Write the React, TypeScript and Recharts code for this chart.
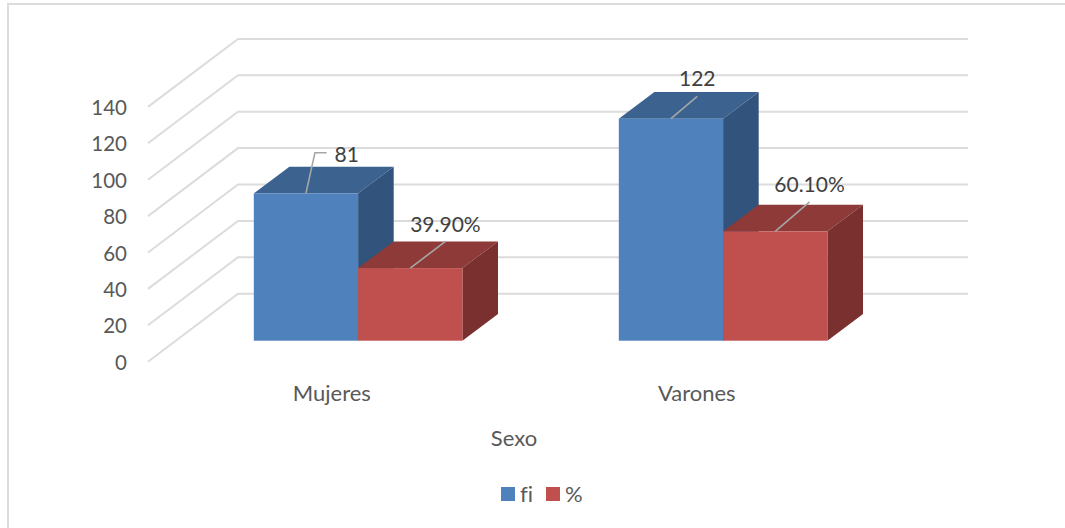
import { Bar, BarChart, CartesianGrid, LabelList, Legend, XAxis, YAxis } from "recharts"

const categories = ["Mujeres", "Varones"]
const fiValues = [81, 122]
const pctValues = [39.9, 60.1]
const yTicks = [0, 20, 40, 60, 80, 100, 120, 140]

const chartData = categories.map((name, i) => ({ name, fi: fiValues[i], pct: pctValues[i] }))

const FONT = "Lato, sans-serif"
const AXIS_TEXT = "#595959"
const LABEL_TEXT = "#404040"
const GRID = "#dcdcdc"
const LEADER = "#a6a6a6"

// fake 3d: how far the bar goes back, and where walls sit relative to the bar plane
const DEPTH_X = 35.6
const DEPTH_Y = 26.6
const WALL_FRONT = { dx: -27.8, dy: 21 }
const WALL_BACK = { dx: 62.2, dy: -47 }

const blueFaces = { top: "#3c6390", side: "#32537b" }
const redFaces = { top: "#8e3a38", side: "#7a302e" }

// leader ends and text centres, relative to the top centre of each front face
const fiLabelLayout = [
  { points: [[9, -40.6], [20.7, -40.6]], text: [40.7, -39.8] },
  { points: [[26.3, -22.3]], text: [26.3, -40.7] },
]
const pctLabelLayout = [
  { points: [[35.2, -26.6]], text: [35.2, -44.8] },
  { points: [[34.3, -29.4]], text: [34.3, -47.9] },
]

function box(faces: { top: string; side: string }) {
  return (props: any) => {
    const { x, y, width, height, fill } = props
    const r = x + width
    const b = y + height
    return (
      <g>
        <polygon
          points={`${x},${y} ${x + DEPTH_X},${y - DEPTH_Y} ${r + DEPTH_X},${y - DEPTH_Y} ${r},${y}`}
          fill={faces.top}
        />
        <polygon
          points={`${r},${y} ${r + DEPTH_X},${y - DEPTH_Y} ${r + DEPTH_X},${b - DEPTH_Y} ${r},${b}`}
          fill={faces.side}
        />
        <rect x={x} y={y} width={width} height={height} fill={fill} />
      </g>
    )
  }
}

function leaderLabel(layout: typeof fiLabelLayout, format: (v: number) => string) {
  return (props: any) => {
    const { x, y, width, value, index } = props
    const cx = x + width / 2
    const item = layout[index]
    const pts = [[0, 0], ...item.points].map(([dx, dy]) => `${cx + dx},${y + dy}`).join(" ")
    return (
      <g>
        <polyline points={pts} fill="none" stroke={LEADER} strokeWidth={1.6} />
        <text
          x={cx + item.text[0]}
          y={y + item.text[1]}
          textAnchor="middle"
          dominantBaseline="central"
          fontFamily={FONT}
          fontSize={21}
          fill={LABEL_TEXT}
        >
          {format(value)}
        </text>
      </g>
    )
  }
}

const gridLine = (p: any) => {
  const { x1, x2, y1 } = p
  const pts = [
    `${x1 + WALL_FRONT.dx},${y1 + WALL_FRONT.dy}`,
    `${x1 + WALL_BACK.dx},${y1 + WALL_BACK.dy}`,
    `${x2 + WALL_BACK.dx},${y1 + WALL_BACK.dy}`,
  ].join(" ")
  return <polyline key={p.key ?? y1} points={pts} fill="none" stroke={GRID} strokeWidth={2} />
}

const yTick = (p: any) => (
  <text
    x={127}
    y={p.y + WALL_FRONT.dy}
    textAnchor="end"
    dominantBaseline="central"
    fontFamily={FONT}
    fontSize={20.5}
    fill={AXIS_TEXT}
  >
    {p.payload.value}
  </text>
)

const xTick = (p: any) => (
  <text
    x={p.x - 26.5}
    y={392.5}
    textAnchor="middle"
    dominantBaseline="central"
    fontFamily={FONT}
    fontSize={22}
    fill={AXIS_TEXT}
  >
    {p.payload.value}
  </text>
)

const legendContent = (props: any) => (
  <div
    style={{
      display: "flex",
      alignItems: "center",
      fontFamily: FONT,
      fontSize: 22,
      lineHeight: "26px",
      color: AXIS_TEXT,
      fontVariantLigatures: "none",
    }}
  >
    {props.payload.map((item: any) => (
      <div key={item.value} style={{ display: "flex", alignItems: "center", marginRight: 13 }}>
        <span style={{ width: 14, height: 14, background: item.color, marginRight: 5 }} />
        <span>{item.value}</span>
      </div>
    ))}
  </div>
)

export default function App() {
  return (
    <div style={{ position: "absolute", left: 0, top: 0, width: 1065, height: 528, background: "#fff" }}>
      <div
        style={{
          position: "absolute",
          left: 6.5,
          top: 3,
          right: 0,
          bottom: 0,
          borderTop: `2px solid ${GRID}`,
          borderLeft: `2px solid ${GRID}`,
        }}
      />
      <BarChart
        width={1065}
        height={528}
        data={chartData}
        barGap={0}
        barSize={104.3}
        margin={{ top: 85.9, right: 159.2, left: 115.8, bottom: 77.3 }}
        style={{ position: "absolute", left: 0, top: 0 }}
      >
        <CartesianGrid vertical={false} horizontal={gridLine} syncWithTicks />
        <XAxis
          dataKey="name"
          axisLine={false}
          tickLine={false}
          height={110}
          interval={0}
          tick={xTick}
          label={{
            value: "Sexo",
            position: "insideBottom",
            dx: -26.8,
            offset: 5,
            fontFamily: FONT,
            fontSize: 22,
            fill: AXIS_TEXT,
          }}
        />
        <YAxis
          width={60}
          domain={[0, 140]}
          ticks={yTicks}
          axisLine={false}
          tickLine={false}
          interval={0}
          tick={yTick}
        />
        <Legend
          layout="horizontal"
          verticalAlign="middle"
          align="center"
          itemSorter={null}
          content={legendContent}
          wrapperStyle={{ left: 501, top: 481, width: 120, bottom: "auto", right: "auto" }}
        />
        <Bar dataKey="fi" name="fi" fill="#4f81bd" shape={box(blueFaces)} isAnimationActive={false}>
          <LabelList dataKey="fi" content={leaderLabel(fiLabelLayout, (v) => String(v))} />
        </Bar>
        <Bar dataKey="pct" name="%" fill="#c0504d" shape={box(redFaces)} isAnimationActive={false}>
          <LabelList dataKey="pct" content={leaderLabel(pctLabelLayout, (v) => `${v.toFixed(2)}%`)} />
        </Bar>
      </BarChart>
    </div>
  )
}
